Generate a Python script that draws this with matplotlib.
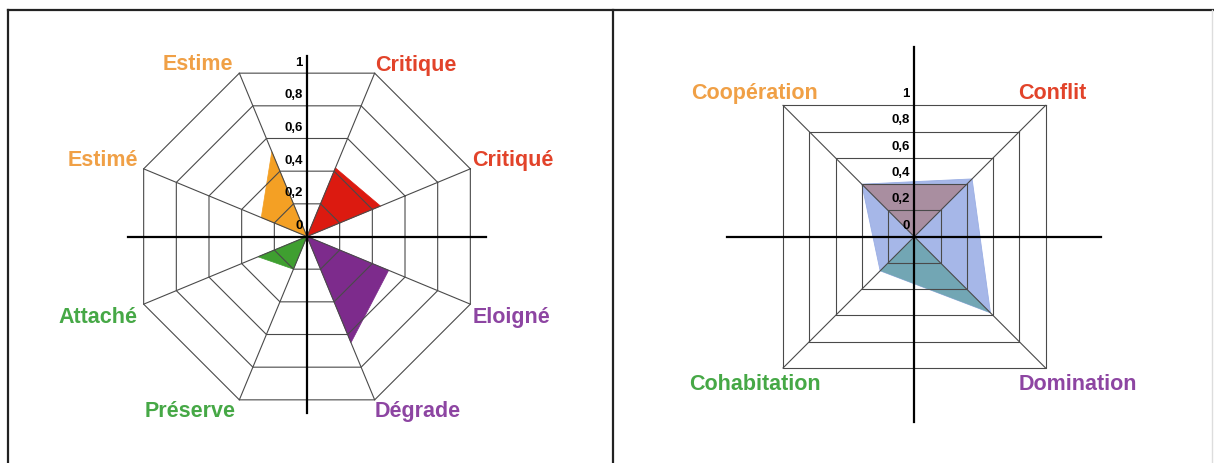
import matplotlib
matplotlib.use('Agg')
import matplotlib.pyplot as plt
import numpy as np
from matplotlib.patches import Polygon

plt.rcParams['font.family'] = ['Liberation Sans', 'DejaVu Sans']

# ---- left chart: 8 axes, one coloured triangle per pair of axes
left_labels = ['Critiqué', 'Critique', 'Estime', 'Estimé',
               'Attaché', 'Préserve', 'Dégrade', 'Eloigné']
left_values = [0.45, 0.42, 0.52, 0.28, 0.30, 0.20, 0.65, 0.50]
left_pairs = [(0, 1), (2, 3), (4, 5), (6, 7)]
left_fill = ['#dc1a10', '#f4a024', '#3f9f30', '#7d2b8c']
left_text = ['#e2432a', '#f0a046', '#46a846', '#8d45a2']

# ---- right chart: 4 axes
right_labels = ['Conflit', 'Coopération', 'Cohabitation', 'Domination']
right_all = [0.44, 0.40, 0.26, 0.58]
right_top = [0.40, 0.40, 0.0, 0.0]
right_bottom = [0.0, 0.0, 0.26, 0.58]
right_text = ['#e2432a', '#f0a046', '#46a846', '#8d45a2']

ticks = [0, 0.2, 0.4, 0.6, 0.8, 1]
tick_labels = ['0', '0,2', '0,4', '0,6', '0,8', '1']

W, H = 1214, 463
fig = plt.figure(figsize=(W / 100, H / 100), dpi=100)

grid_kw = dict(color='#4a4a4a', lw=0.8, zorder=3)
label_kw = dict(fontsize=15.5, fontweight='bold', va='center',
                textcoords='offset pixels')


def points(values, angles, scale=1.0):
    values = np.asarray(values)
    return np.column_stack([values * scale * np.cos(angles),
                            values * scale * np.sin(angles)])


# ---------------- left panel
R1 = 176.8
ax1 = fig.add_axes([(307 - 1.6 * R1) / W, (H - 236.5 - 1.25 * R1) / H,
                    3.2 * R1 / W, 2.5 * R1 / H])
ax1.set_xlim(-1.6, 1.6)
ax1.set_ylim(-1.25, 1.25)
ax1.axis('off')

ang1 = np.deg2rad(22.5 + 45 * np.arange(8))

for c, (i, j) in zip(left_fill, left_pairs):
    pts = points(left_values, ang1)
    ax1.add_patch(Polygon([(0, 0), pts[i], pts[j]], closed=True,
                          facecolor=c, edgecolor=c, lw=0.5, zorder=2))

for t in ticks[1:]:
    ring = points([t] * 9, np.append(ang1, ang1[0]))
    ax1.plot(ring[:, 0], ring[:, 1], **grid_kw)
for a in ang1:
    ax1.plot([0, np.cos(a)], [0, np.sin(a)], **grid_kw)

ax1.plot([0, 0], [-1.0, 1.02], color='black', lw=1.6, zorder=4)
ax1.plot([-1.01, 1.01], [0, 0], color='black', lw=1.6, zorder=4)

apo = np.cos(np.deg2rad(22.5))
for t, tl in zip(ticks, tick_labels):
    ax1.text(-0.025, t * apo + 0.06, tl, ha='right', va='center',
             fontsize=9.5, fontweight='bold', zorder=5)

left_off = [('left', 2, 8), ('left', 0, 8), ('right', -6, 9), ('right', -6, 8),
            ('right', -6, -13), ('right', -4, -12), ('left', 0, -12),
            ('left', 2, -13)]
vert = points([1] * 8, ang1)
for k, lab in enumerate(left_labels):
    ha, dx, dy = left_off[k]
    ax1.annotate(lab, vert[k], xytext=(dx, dy), ha=ha,
                 color=left_text[k // 2], **label_kw)

# ---------------- right panel
R2 = 131.3
ax2 = fig.add_axes([(914.3 - 1.7 * R2) / W, (H - 236.7 - 1.65 * R2) / H,
                    3.4 * R2 / W, 3.3 * R2 / H])
ax2.set_xlim(-1.7, 1.7)
ax2.set_ylim(-1.65, 1.65)
ax2.axis('off')

ang2 = np.deg2rad(45 + 90 * np.arange(4))
s2 = np.sqrt(2)

ax2.add_patch(Polygon(points(right_all, ang2, s2), closed=True,
                      facecolor='#a6b7e8', edgecolor='#9aaee4', lw=0.6,
                      zorder=1))
ax2.add_patch(Polygon(points(right_top, ang2, s2), closed=True,
                      facecolor='#a98ea0', edgecolor='none', zorder=2))
ax2.add_patch(Polygon(points(right_bottom, ang2, s2), closed=True,
                      facecolor='#72a6b4', edgecolor='none', zorder=2))

for t in ticks[1:]:
    sq = points([t] * 5, np.append(ang2, ang2[0]), s2)
    ax2.plot(sq[:, 0], sq[:, 1], **grid_kw)
for a in ang2:
    ax2.plot([0, s2 * np.cos(a)], [0, s2 * np.sin(a)], **grid_kw)

ax2.plot([0, 0], [-1.41, 1.445], color='black', lw=1.6, zorder=4)
ax2.plot([-1.43, 1.42], [0, 0], color='black', lw=1.6, zorder=4)

for t, tl in zip(ticks, tick_labels):
    ax2.text(-0.035, t + 0.085, tl, ha='right', va='center',
             fontsize=9.5, fontweight='bold', zorder=5)

right_off = [('left', -27, 12), ('center', -28, 12), ('center', -28, -16),
             ('left', -27, -16)]
corner = points([1] * 4, ang2, s2)
for k, lab in enumerate(right_labels):
    ha, dx, dy = right_off[k]
    ax2.annotate(lab, corner[k], xytext=(dx, dy), ha=ha,
                 color=right_text[k], **label_kw)

# ---------------- frame lines around the two panels
frame = fig.add_axes([0, 0, 1, 1], zorder=-1)
frame.set_xlim(0, W)
frame.set_ylim(H, 0)
frame.axis('off')
frame.plot([8, W], [10, 10], color='#222222', lw=1.6)
frame.plot([8, 8], [10, H], color='#222222', lw=1.6)
frame.plot([613, 613], [10, H], color='#222222', lw=1.6)
frame.plot([1212, 1212], [10, H], color='#dddddd', lw=1.0)

fig.savefig('out.png', dpi=100)
